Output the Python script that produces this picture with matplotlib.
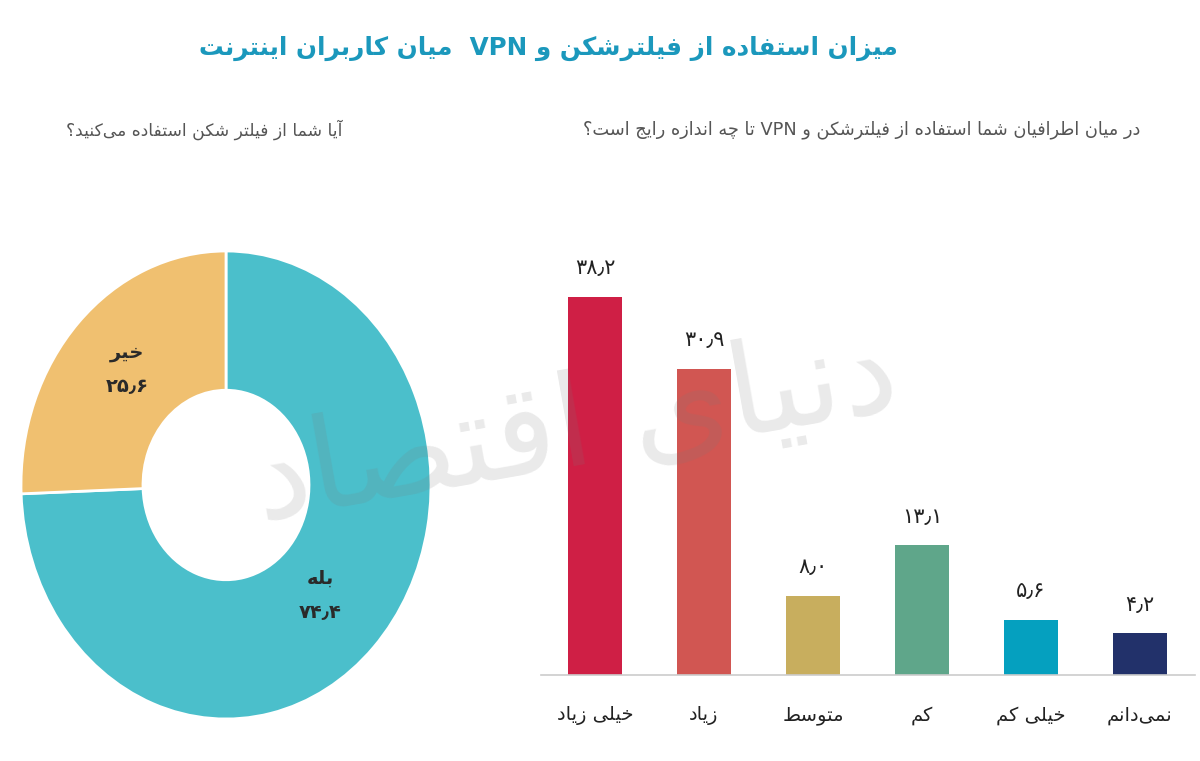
import re
import matplotlib
matplotlib.use("Agg")
import matplotlib.pyplot as plt

# ---------------- data ----------------
title_text = "میزان استفاده از فیلترشکن و VPN  میان کاربران اینترنت"
left_subtitle = "آیا شما از فیلتر شکن استفاده می\u200cکنید؟"
right_subtitle = "در میان اطرافیان شما استفاده از فیلترشکن و VPN تا چه اندازه رایج است؟"
watermark = "دنیای اقتصاد"

bar_categories = ["خیلی زیاد", "زیاد", "متوسط", "کم", "خیلی کم", "نمی\u200cدانم"]
bar_values = [38.2, 30.9, 8.0, 13.1, 5.6, 4.2]
bar_colors = ["#CF1F45", "#D15652", "#C8AE5E", "#5FA68A", "#05A0BF", "#22316A"]

pie_labels = ["بله", "خیر"]
pie_values = [74.4, 25.6]
pie_colors = ["#4BBFCB", "#F0C070"]

# ---------------- simple Persian shaping ----------------
FORMS = {
    '\u0627': ('\uFE8D', '\uFE8E', None, None),
    '\u0622': ('\uFE81', '\uFE82', None, None),
    '\u0628': ('\uFE8F', '\uFE90', '\uFE91', '\uFE92'),
    '\u062A': ('\uFE95', '\uFE96', '\uFE97', '\uFE98'),
    '\u062B': ('\uFE99', '\uFE9A', '\uFE9B', '\uFE9C'),
    '\u062C': ('\uFE9D', '\uFE9E', '\uFE9F', '\uFEA0'),
    '\u062D': ('\uFEA1', '\uFEA2', '\uFEA3', '\uFEA4'),
    '\u062E': ('\uFEA5', '\uFEA6', '\uFEA7', '\uFEA8'),
    '\u062F': ('\uFEA9', '\uFEAA', None, None),
    '\u0630': ('\uFEAB', '\uFEAC', None, None),
    '\u0631': ('\uFEAD', '\uFEAE', None, None),
    '\u0632': ('\uFEAF', '\uFEB0', None, None),
    '\u0633': ('\uFEB1', '\uFEB2', '\uFEB3', '\uFEB4'),
    '\u0634': ('\uFEB5', '\uFEB6', '\uFEB7', '\uFEB8'),
    '\u0635': ('\uFEB9', '\uFEBA', '\uFEBB', '\uFEBC'),
    '\u0636': ('\uFEBD', '\uFEBE', '\uFEBF', '\uFEC0'),
    '\u0637': ('\uFEC1', '\uFEC2', '\uFEC3', '\uFEC4'),
    '\u0638': ('\uFEC5', '\uFEC6', '\uFEC7', '\uFEC8'),
    '\u0639': ('\uFEC9', '\uFECA', '\uFECB', '\uFECC'),
    '\u063A': ('\uFECD', '\uFECE', '\uFECF', '\uFED0'),
    '\u0641': ('\uFED1', '\uFED2', '\uFED3', '\uFED4'),
    '\u0642': ('\uFED5', '\uFED6', '\uFED7', '\uFED8'),
    '\u0644': ('\uFEDD', '\uFEDE', '\uFEDF', '\uFEE0'),
    '\u0645': ('\uFEE1', '\uFEE2', '\uFEE3', '\uFEE4'),
    '\u0646': ('\uFEE5', '\uFEE6', '\uFEE7', '\uFEE8'),
    '\u0647': ('\uFEE9', '\uFEEA', '\uFEEB', '\uFEEC'),
    '\u0648': ('\uFEED', '\uFEEE', None, None),
    '\u067E': ('\uFB56', '\uFB57', '\uFB58', '\uFB59'),
    '\u0686': ('\uFB7A', '\uFB7B', '\uFB7C', '\uFB7D'),
    '\u0698': ('\uFB8A', '\uFB8B', None, None),
    '\u06A9': ('\uFB8E', '\uFB8F', '\uFB90', '\uFB91'),
    '\u06AF': ('\uFB92', '\uFB93', '\uFB94', '\uFB95'),
    '\u06CC': ('\uFBFC', '\uFBFD', '\uFBFE', '\uFBFF'),
}
LAMALEF = {'\u0627': ('\uFEFB', '\uFEFC'), '\u0622': ('\uFEF5', '\uFEF6')}


def shape(text):
    chars = list(text)
    n = len(chars)
    out = []
    i = 0
    while i < n:
        c = chars[i]
        prev = chars[i - 1] if i > 0 else None
        joins_prev = (prev in FORMS and FORMS[prev][2] is not None and c in FORMS)
        if c == '\u0644' and i + 1 < n and chars[i + 1] in LAMALEF:
            lig = LAMALEF[chars[i + 1]]
            out.append(lig[1] if joins_prev else lig[0])
            i += 2
            continue
        if c not in FORMS:
            if c != '\u200c':
                out.append(c)
            i += 1
            continue
        nxt = chars[i + 1] if i + 1 < n else None
        joins_next = FORMS[c][2] is not None and nxt in FORMS
        iso, fin, ini, med = FORMS[c]
        if joins_prev and joins_next:
            out.append(med)
        elif joins_prev:
            out.append(fin)
        elif joins_next:
            out.append(ini)
        else:
            out.append(iso)
        i += 1
    return ''.join(out)


def rtl(text):
    shaped = shape(text)
    runs = re.findall(r'[A-Za-z0-9.]+|[^A-Za-z0-9.]+', shaped)
    return ''.join(r if re.match(r'[A-Za-z0-9]', r) else r[::-1]
                   for r in reversed(runs))


def fa_num(v):
    s = f"{v:.1f}"
    digits = "۰۱۲۳۴۵۶۷۸۹"
    return ''.join(digits[int(ch)] if ch.isdigit() else '\u066B' for ch in s)


plt.rcParams['font.family'] = ['DejaVu Sans']

W, H = 1200, 761
fig = plt.figure(figsize=(W / 100, H / 100), dpi=100)
fig.patch.set_facecolor('white')


def fx(px):
    return px / W


def fy(py):
    return 1 - py / H


# title and subtitles
fig.text(fx(548), fy(48), rtl(title_text), ha='center', va='center',
         fontsize=17.7, fontweight='bold', color='#1B98BC')
fig.text(fx(342), fy(130), rtl(left_subtitle), ha='right', va='center',
         fontsize=12.3, color='#555555')
fig.text(fx(1140), fy(130), rtl(right_subtitle), ha='right', va='center',
         fontsize=12.8, color='#555555')

# ---------------- bar chart ----------------
ax = fig.add_axes([fx(540.5), fy(675), (1194.5 - 540.5) / W, 396 / H])
ax.set_facecolor('none')
xs = list(range(len(bar_values)))
bars = ax.bar(xs, bar_values, width=0.5, color=bar_colors, zorder=2)
ax.set_xlim(-0.5, len(bar_values) - 0.5)
ax.set_ylim(0, 40)
for x, v in zip(xs, bar_values):
    ax.text(x, v + 2.9, fa_num(v), ha='center', va='center', fontsize=15,
            color='#222222')
ax.set_xticks(xs)
ax.set_xticklabels([rtl(c) for c in bar_categories], fontsize=14, color='#222222')
ax.tick_params(axis='x', length=0, pad=22)
ax.set_yticks([])
for s in ['top', 'right', 'left']:
    ax.spines[s].set_visible(False)
ax.spines['bottom'].set_color('#CCCCCC')
ax.spines['bottom'].set_linewidth(1.2)

# ---------------- donut (slightly elliptical, as in the reference) ----------------
cx, cy, RX, RY = 226, 485, 205, 234
pax = fig.add_axes([fx(cx - RX), fy(cy + RY), 2 * RX / W, 2 * RY / H])
pax.set_facecolor('none')
pax.pie(pie_values, colors=pie_colors, startangle=90, counterclock=False,
        radius=1, wedgeprops=dict(width=1 - 83 / 205, edgecolor='white', linewidth=2))
pax.set_xlim(-1, 1)
pax.set_ylim(-1, 1)
pax.set_aspect('auto')
pax.axis('off')

label_pos = [(320, 578), (127, 352)]
for (px, py), lab, val in zip(label_pos, pie_labels, pie_values):
    dx = (px - cx) / RX
    dy = (cy - py) / RY
    pax.text(dx, dy, rtl(lab), ha='center', va='center', fontsize=14,
             fontweight='bold', color='#2A2A2A')
    pax.text(dx, dy - 35 / RY, fa_num(val), ha='center', va='center', fontsize=14,
             fontweight='bold', color='#2A2A2A')

# watermark (faint, semi-transparent grey over the charts)
fig.text(fx(575), fy(430), rtl(watermark), ha='center', va='center',
         fontsize=92, color='#7A7A7A', alpha=0.16, rotation=10, zorder=10)

fig.savefig('out.png', dpi=100, facecolor='white')
